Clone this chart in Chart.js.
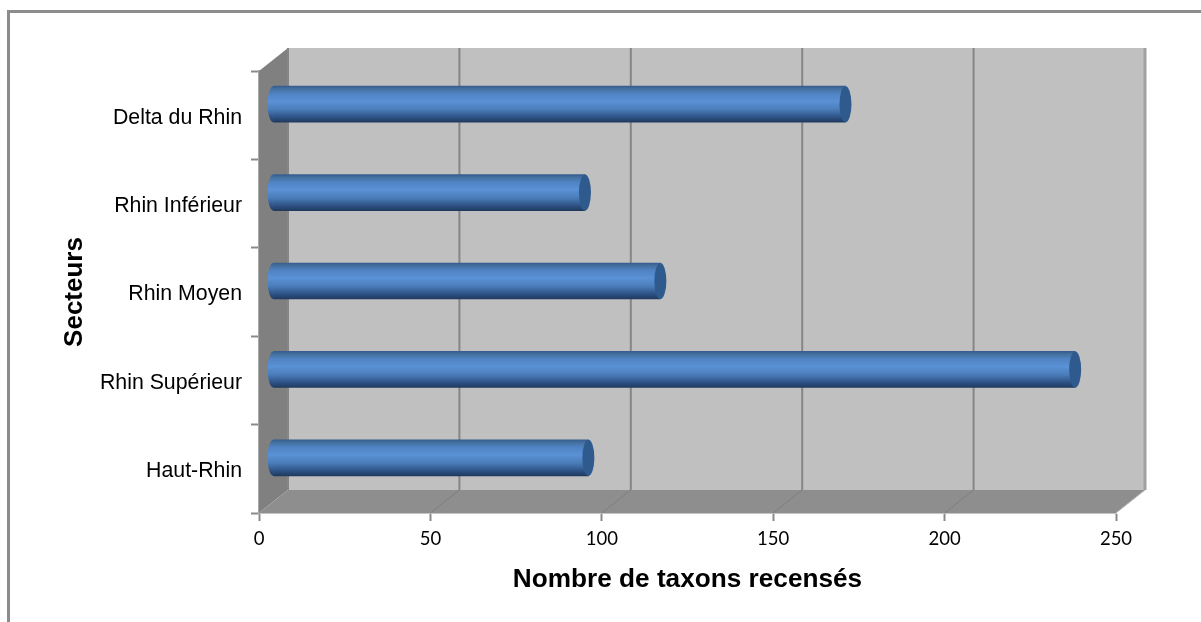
<!DOCTYPE html>
<html><head><meta charset="utf-8">
<style>
html,body{margin:0;padding:0;background:#fff;width:1201px;height:622px;overflow:hidden}
#wrap{position:absolute;left:0;top:0;width:1201px;height:622px}
#frame{position:absolute;left:7px;top:10px;right:0;bottom:0;border-left:3px solid #8c8c8c;border-top:3px solid #8c8c8c}
</style>
<script src="https://cdn.jsdelivr.net/npm/chart.js@4/dist/chart.umd.min.js"></script>
</head><body>
<div id="wrap"><canvas id="c" width="1201" height="622"></canvas><div id="frame"></div></div>
<script>
const categories = ["Delta du Rhin","Rhin Inférieur","Rhin Moyen","Rhin Supérieur","Haut-Rhin"];
const taxons = [167, 91, 113, 234, 92];
const xTicks = [0,50,100,150,200,250];
const xTitle = "Nombre de taxons recensés";
const yTitle = "Secteurs";

const DEPTH_X = 29, DEPTH_Y = -23;
const BAR_DX = 14, BAR_DY = -11, CAP_RX = 6;

function tubeGradient(ctx, top, bottom){
  const g = ctx.createLinearGradient(0, top, 0, bottom);
  g.addColorStop(0, '#365d91');
  g.addColorStop(0.08, '#44719f');
  g.addColorStop(0.2, '#4f82c2');
  g.addColorStop(0.42, '#5a92d6');
  g.addColorStop(0.65, '#4a7cb8');
  g.addColorStop(0.85, '#2f5488');
  g.addColorStop(1, '#1f3a5e');
  return g;
}

const walls = {
  id:'walls',
  beforeDatasetsDraw(chart){
    const {ctx, chartArea:a, scales:{x}} = chart;
    const L=a.left, R=a.right, T=a.top, B=a.bottom;
    const poly=(pts,fill)=>{ctx.beginPath();pts.forEach((p,i)=>i?ctx.lineTo(p[0],p[1]):ctx.moveTo(p[0],p[1]));ctx.closePath();ctx.fillStyle=fill;ctx.fill();};
    ctx.save();
    poly([[L+DEPTH_X,T+DEPTH_Y],[R+DEPTH_X,T+DEPTH_Y],[R+DEPTH_X,B+DEPTH_Y],[L+DEPTH_X,B+DEPTH_Y]],'#c0c0c0');
    poly([[L,T],[L+DEPTH_X,T+DEPTH_Y],[L+DEPTH_X,B+DEPTH_Y],[L,B]],'#808080');
    poly([[L,B],[L+DEPTH_X,B+DEPTH_Y],[R+DEPTH_X,B+DEPTH_Y],[R,B]],'#8e8e8e');
    xTicks.forEach(v=>{
      const px=x.getPixelForValue(v);
      const last = v===xTicks[xTicks.length-1];
      ctx.strokeStyle = last ? '#a0a0a0' : '#868686';
      ctx.lineWidth = last ? 3 : 2;
      ctx.beginPath();ctx.moveTo(px+DEPTH_X,T+DEPTH_Y);ctx.lineTo(px+DEPTH_X,B+DEPTH_Y);ctx.stroke();
      ctx.strokeStyle = last ? '#b8b8b8' : '#7e7e7e';
      ctx.lineWidth = 1;
      if(v!==xTicks[0]){ctx.beginPath();ctx.moveTo(px+DEPTH_X,B+DEPTH_Y);ctx.lineTo(px,B);ctx.stroke();}
    });
    ctx.restore();
  },
  beforeDatasetDraw(chart,args){
    const {ctx}=chart;
    ctx.save();
    ctx.translate(BAR_DX,BAR_DY);
    args.meta.data.forEach(el=>{
      const top=el.y-el.height/2, bot=el.y+el.height/2;
      ctx.beginPath();
      ctx.ellipse(el.base,el.y,CAP_RX,el.height/2,0,Math.PI/2,Math.PI*1.5);
      ctx.closePath();
      ctx.fillStyle=tubeGradient(ctx,top,bot);
      ctx.fill();
    });
  },
  afterDatasetDraw(chart,args){
    const {ctx}=chart;
    args.meta.data.forEach(el=>{
      ctx.beginPath();
      ctx.ellipse(el.x,el.y,CAP_RX,el.height/2,0,0,Math.PI*2);
      ctx.fillStyle='#2f5a8e';
      ctx.fill();
    });
    ctx.restore();
  }
};

new Chart(document.getElementById('c'),{
  type:'bar',
  plugins:[walls],
  data:{labels:categories,datasets:[{
    data:taxons,
    barThickness:36,
    borderWidth:0,
    backgroundColor(c){
      const y=c.chart.scales.y;
      const cy=(y&&c.dataIndex!==undefined)?y.getPixelForValue(c.dataIndex):NaN;
      if(!Number.isFinite(cy)) return '#4f81bd';
      return tubeGradient(c.chart.ctx,cy-18,cy+18);
    }
  }]},
  options:{
    indexAxis:'y',
    responsive:false,
    animation:false,
    layout:{padding:{left:0,top:71,right:85,bottom:0}},
    plugins:{legend:{display:false},tooltip:{enabled:false}},
    scales:{
      x:{
        min:0,max:250,
        afterFit(s){s.height=109;},
        afterBuildTicks(s){s.ticks=xTicks.map(v=>({value:v}));},
        border:{display:true,color:'#c4c4c4',width:2},
        grid:{drawOnChartArea:false,drawTicks:true,tickLength:8,tickColor:'#8a8a8a',tickWidth:2},
        ticks:{color:'#000',font:{family:'Lato',size:18.5},padding:7,maxRotation:0},
        title:{display:true,text:xTitle,color:'#000',font:{family:'Liberation Sans',size:26.2,weight:'bold'},padding:{top:12,bottom:27}}
      },
      y:{
        afterFit(s){s.width=259;},
        border:{display:true,color:'#a8a8a8',width:2},
        grid:{drawOnChartArea:false,drawTicks:true,tickLength:8,tickColor:'#8a8a8a',tickWidth:2},
        ticks:{color:'#000',font:{family:'Liberation Sans',size:21.3},padding:9,labelOffset:2.5},
        title:{display:true,text:yTitle,color:'#000',font:{family:'Liberation Sans',size:26,weight:'bold'},padding:{top:59,bottom:0}}
      }
    }
  }
});
</script>
</body></html>
